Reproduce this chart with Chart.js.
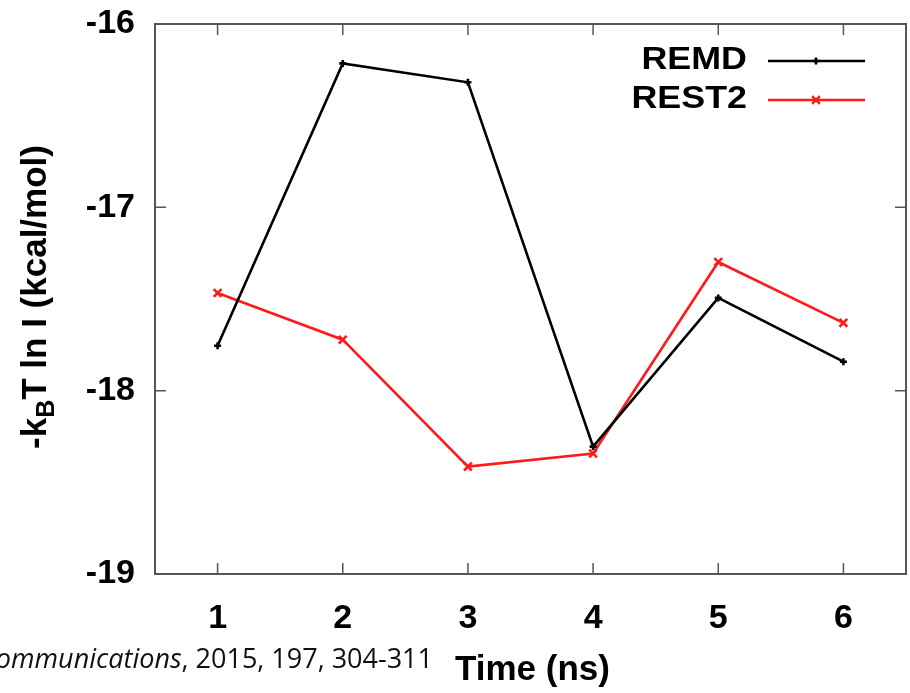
<!DOCTYPE html>
<html>
<head>
<meta charset="utf-8">
<script src="https://cdn.jsdelivr.net/npm/chart.js@4.4.1/dist/chart.umd.min.js"></script>
<style>
  html, body { margin: 0; padding: 0; background: #fff; }
  #wrap { width: 910px; height: 693px; position: relative; }
</style>
</head>
<body>
<div id="wrap"><canvas id="c" width="910" height="693"></canvas></div>
<script>
// Simulation time points (ns)
const timeLabels = ['1', '2', '3', '4', '5', '6'];
// -kBT ln I (kcal/mol) for each sampling method
const remdValues = [-17.755, -16.215, -16.318, -18.305, -17.494, -17.842];
const rest2Values = [-17.467, -17.722, -18.414, -18.343, -17.298, -17.630];
// Y axis tick values
const yTicks = [-19, -18, -17, -16];

const SANS = '"Liberation Sans", Arial, Helvetica, sans-serif';
const AXIS_COLOR = '#555';

// Frame with short inward ticks on all four sides
const framePlugin = {
  id: 'frame',
  afterDatasetsDraw(chart) {
    const { ctx, chartArea: a, scales } = chart;
    ctx.save();
    ctx.strokeStyle = AXIS_COLOR;
    ctx.lineWidth = 2;
    ctx.strokeRect(a.left, a.top, a.right - a.left, a.bottom - a.top);
    ctx.lineWidth = 1.5;
    const len = 11;
    timeLabels.forEach((_, i) => {
      const x = scales.x.getPixelForValue(i);
      ctx.beginPath();
      ctx.moveTo(x, a.bottom); ctx.lineTo(x, a.bottom - len);
      ctx.moveTo(x, a.top); ctx.lineTo(x, a.top + len);
      ctx.stroke();
    });
    yTicks.forEach(v => {
      const y = scales.y.getPixelForValue(v);
      ctx.beginPath();
      ctx.moveTo(a.left, y); ctx.lineTo(a.left + len, y);
      ctx.moveTo(a.right, y); ctx.lineTo(a.right - len, y);
      ctx.stroke();
    });
    ctx.restore();
  }
};

// Axis titles (y title carries a subscript) and the source line
const titlePlugin = {
  id: 'titles',
  afterDraw(chart) {
    const { ctx, chartArea: a } = chart;
    ctx.save();
    ctx.fillStyle = '#000';
    ctx.textBaseline = 'alphabetic';

    // x title
    ctx.font = 'bold 35px ' + SANS;
    ctx.textAlign = 'center';
    ctx.fillText('Time (ns)', (a.left + a.right) / 2 + 2, 680);

    // y title, rotated, with subscript B
    const big = 'bold 35px ' + SANS;
    const small = 'bold 25px ' + SANS;
    const parts = [
      { t: '-k', f: big, dy: 0 },
      { t: 'B', f: small, dy: 8 },
      { t: 'T ln I (kcal/mol)', f: big, dy: 0 }
    ];
    let total = 0;
    parts.forEach(p => { ctx.font = p.f; p.w = ctx.measureText(p.t).width; total += p.w; });
    ctx.translate(46, 297);
    ctx.rotate(-Math.PI / 2);
    ctx.textAlign = 'left';
    let x = -total / 2;
    parts.forEach(p => { ctx.font = p.f; ctx.fillText(p.t, x, p.dy); x += p.w; });
    ctx.restore();

    // source reference
    ctx.save();
    ctx.fillStyle = '#111';
    ctx.textBaseline = 'alphabetic';
    ctx.textAlign = 'right';
    const tail = ', 2015, 197, 304-311';
    const size = 27;
    ctx.font = size + 'px "Open Sans", "Noto Sans", sans-serif';
    const tw = ctx.measureText(tail).width;
    const right = 433;
    ctx.fillText(tail, right, 668);
    ctx.font = 'italic ' + size + 'px "Open Sans", "Noto Sans", sans-serif';
    ctx.fillText('Computer Physics Communications', right - tw, 668);
    ctx.restore();
  }
};

// Legend: right-aligned names followed by a line sample with its marker
const legendPlugin = {
  id: 'customLegend',
  afterDraw(chart) {
    const { ctx } = chart;
    const rows = [61, 100];
    ctx.save();
    chart.data.datasets.forEach((ds, i) => {
      const y = rows[i];
      ctx.save();
      ctx.font = 'bold 32px ' + SANS;
      ctx.fillStyle = '#000';
      ctx.textAlign = 'right';
      ctx.textBaseline = 'alphabetic';
      ctx.translate(747, y + 8);
      ctx.scale(1.12, 1);
      ctx.fillText(ds.label, 0, 0);
      ctx.restore();
      ctx.strokeStyle = ds.borderColor;
      ctx.lineWidth = ds.borderWidth;
      ctx.beginPath();
      ctx.moveTo(768, y); ctx.lineTo(865, y);
      ctx.stroke();
      ctx.strokeStyle = ds.pointBorderColor;
      ctx.fillStyle = ds.pointBorderColor;
      Chart.helpers.drawPoint(ctx, {
        pointStyle: ds.pointStyle, radius: ds.pointRadius,
        borderWidth: ds.pointBorderWidth, rotation: 0
      }, 816, y);
    });
    ctx.restore();
  }
};

new Chart(document.getElementById('c'), {
  type: 'line',
  data: {
    labels: timeLabels,
    datasets: [
      {
        label: 'REMD',
        data: remdValues,
        borderColor: '#000',
        backgroundColor: '#000',
        borderWidth: 2.6,
        pointStyle: 'cross',
        pointRadius: 3.5,
        pointBorderWidth: 2.6,
        pointBorderColor: '#000',
        tension: 0
      },
      {
        label: 'REST2',
        data: rest2Values,
        borderColor: '#ff1a1a',
        backgroundColor: '#ff1a1a',
        borderWidth: 2.6,
        pointStyle: 'crossRot',
        pointRadius: 5.5,
        pointBorderWidth: 2.6,
        pointBorderColor: '#ff1a1a',
        tension: 0
      }
    ]
  },
  options: {
    responsive: false,
    animation: false,
    layout: { autoPadding: false, padding: { left: 0, right: 4, top: 24, bottom: 0 } },
    plugins: { legend: { display: false }, tooltip: { enabled: false } },
    scales: {
      x: {
        type: 'category',
        offset: true,
        border: { display: false },
        grid: { display: false, offset: false, drawTicks: false },
        ticks: { color: '#000', font: { family: SANS, size: 34, weight: 'bold' }, padding: 24, maxRotation: 0 },
        afterFit(s) { s.height = 119; s.paddingLeft = 0; s.paddingRight = 0; }
      },
      y: {
        min: -19, max: -16,
        border: { display: false },
        grid: { display: false, drawTicks: false },
        afterBuildTicks(s) { s.ticks = yTicks.map(v => ({ value: v })); },
        ticks: { color: '#000', font: { family: SANS, size: 34, weight: 'bold' }, padding: 20 },
        afterFit(s) { s.width = 155; s.paddingTop = 0; s.paddingBottom = 0; }
      }
    }
  },
  plugins: [framePlugin, titlePlugin, legendPlugin]
});
</script>
</body>
</html>
